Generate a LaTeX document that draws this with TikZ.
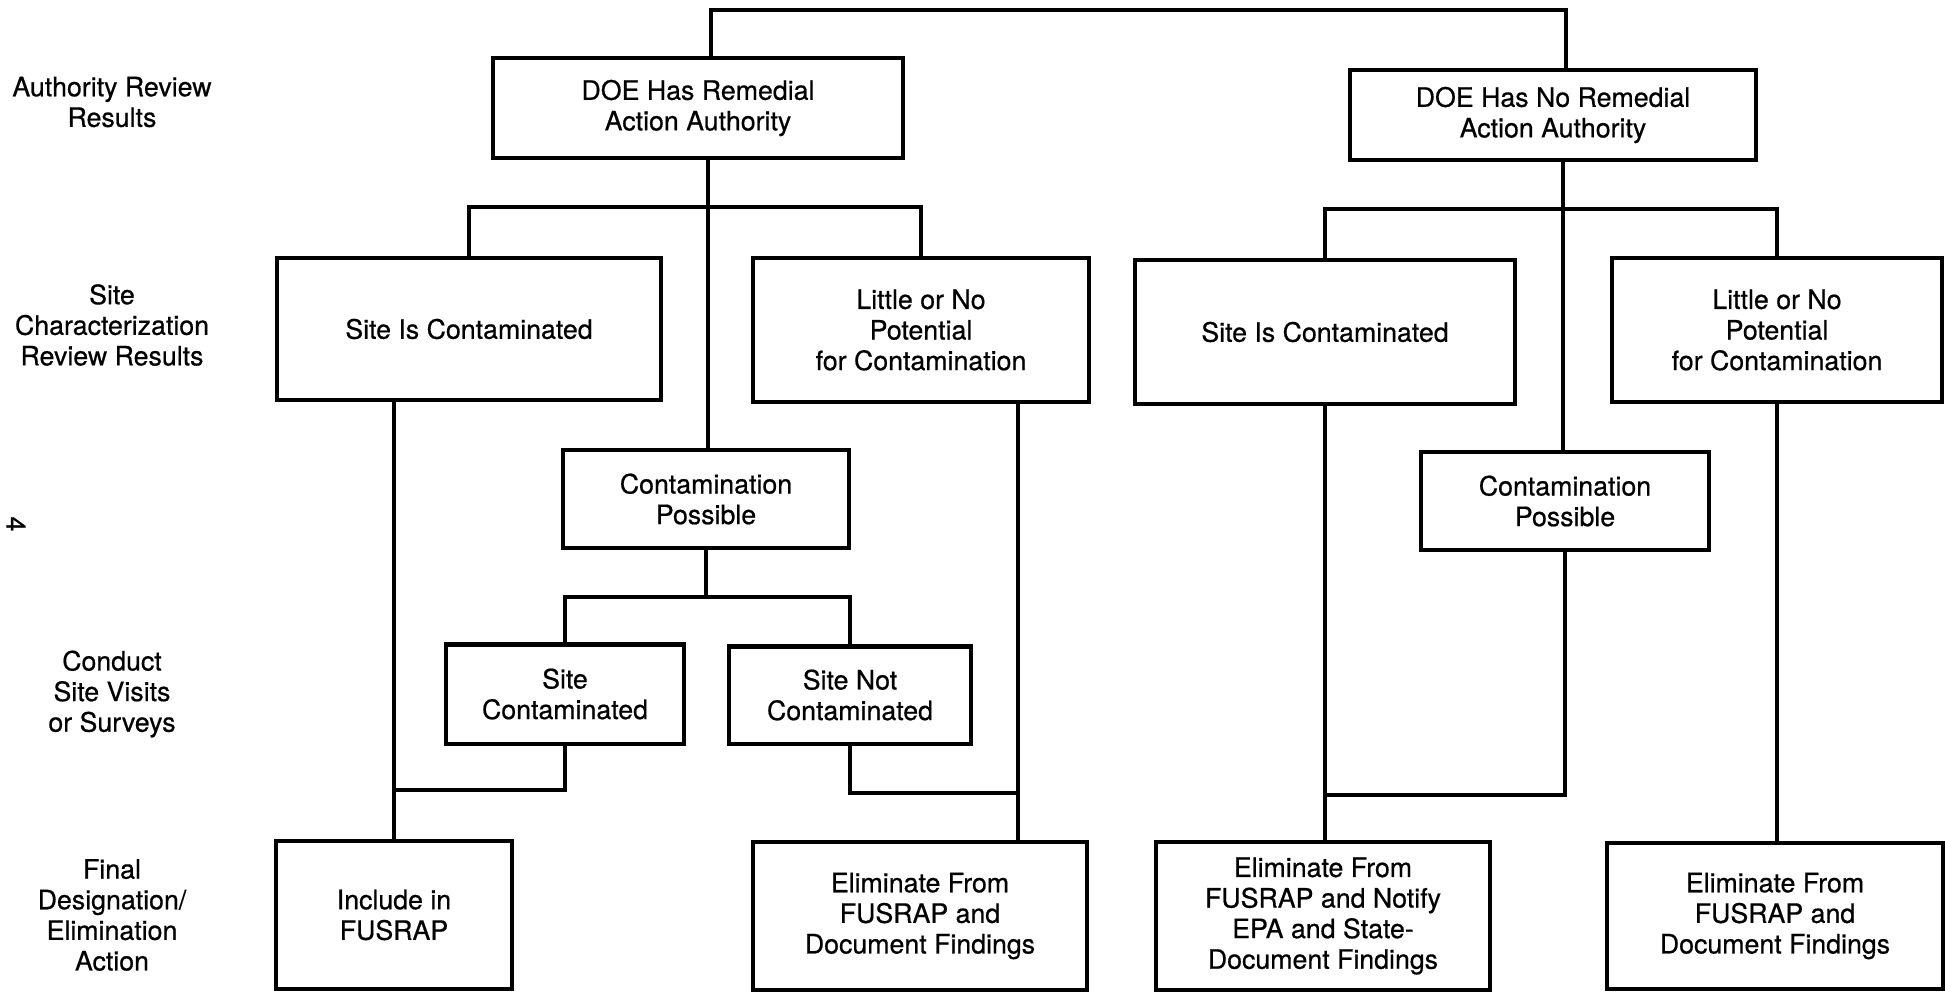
\documentclass[tikz,border=0pt]{standalone}
\usepackage{fontspec}
\setmainfont{TeX Gyre Heros}[FakeBold=0.6]
\usepackage{tikz}

\begin{document}
\begin{tikzpicture}[x=0.01cm, y=-0.01cm, line width=1.15pt,
  every node/.style={align=center, font=\fontsize{7.6}{8.7}\selectfont},
  box/.style={draw, inner sep=0pt}]
  \useasboundingbox (0,0) rectangle (1945,993);
  \node (r1) at (112,102) {Authority Review\\Results};
  \node (r2) at (112,325) {Site\\Characterization\\Review Results};
  \node (r3) at (112,694) {Conduct\\Site Visits\\or Surveys};
  \node (r4) at (112,915) {Final\\Designation/\\Elimination\\Action};
  \node [rotate=-90] (pg) at (16,524) {4};
  \node [box, minimum width=4.1cm, minimum height=1cm] (0) at (698,108) {DOE Has Remedial\\Action Authority};
  \node [box, minimum width=4.06cm, minimum height=.9cm] (1) at (1553,115) {DOE Has No Remedial\\Action Authority};
  \node [box, minimum width=3.84cm, minimum height=1.42cm] (2) at (469,329) {Site Is Contaminated};
  \node [box, minimum width=3.35cm, minimum height=1.44cm] (3) at (921,330) {Little or No\\Potential\\for Contamination};
  \node [box, minimum width=3.79cm, minimum height=1.44cm] (4) at (1325,332) {Site Is Contaminated};
  \node [box, minimum width=3.29cm, minimum height=1.44cm] (5) at (1777,330) {Little or No\\Potential\\for Contamination};
  \node [box, minimum width=2.85cm, minimum height=.98cm] (6) at (706,499) {Contamination\\Possible};
  \node [box, minimum width=2.87cm, minimum height=.98cm] (7) at (1565,501) {Contamination\\Possible};
  \node [box, minimum width=2.37cm, minimum height=.99cm] (8) at (565,694) {Site\\Contaminated};
  \node [box, minimum width=2.42cm, minimum height=.97cm] (9) at (850,695) {Site Not\\Contaminated};
  \node [box, minimum width=2.36cm, minimum height=1.48cm] (10) at (394,915) {Include in\\FUSRAP};
  \node [box, minimum width=3.33cm, minimum height=1.47cm] (11) at (920,916) {Eliminate From\\FUSRAP and\\Document Findings};
  \node [box, minimum width=3.34cm, minimum height=1.47cm] (12) at (1323,916) {Eliminate From\\FUSRAP and Notify\\EPA and State-\\Document Findings};
  \node [box, minimum width=3.35cm, minimum height=1.46cm] (13) at (1775,916) {Eliminate From\\FUSRAP and\\Document Findings};
  \coordinate (ta) at (711,10);
  \coordinate (tb) at (1566,10);
  \coordinate (ha) at (708,207);
  \coordinate (hb) at (1563,209);
  \coordinate (hc) at (706,597);
  \coordinate (ja) at (394,790);
  \coordinate (jb) at (1018,793);
  \coordinate (jc) at (1325,795);
  \draw (0.north -| ta) -- (ta) -- (tb) -- (1.north -| tb);
  \draw (0.south -| ha) -- (6.north -| ha);
  \draw (2.north) |- (ha) -| (3.north);
  \draw (6.south) -- (hc);
  \draw (8.north) |- (hc) -| (9.north);
  \draw (2.south -| 10.north) -- (10.north);
  \draw (8.south) |- (ja);
  \draw (3.south -| jb) -- (11.north -| jb);
  \draw (9.south) |- (jb);
  \draw (1.south -| hb) -- (7.north -| hb);
  \draw (4.north) |- (hb) -| (5.north);
  \draw (4.south) -- (4.south |- 12.north);
  \draw (7.south) |- (jc);
  \draw (5.south) -- (5.south |- 13.north);
\end{tikzpicture}
\end{document}
